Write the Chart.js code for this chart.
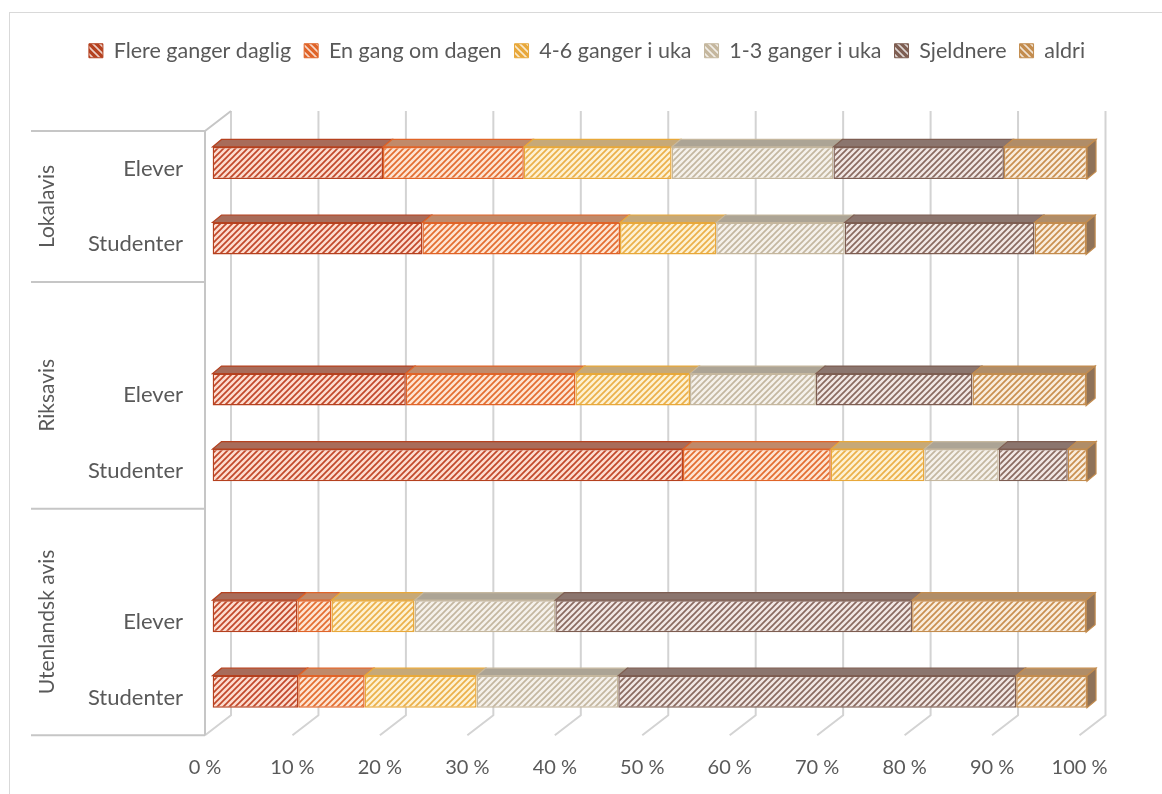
<!DOCTYPE html>
<html><head><meta charset="utf-8">
<script src="https://cdn.jsdelivr.net/npm/chart.js@4.4.1/dist/chart.umd.min.js"></script>
<style>
html,body{margin:0;padding:0;background:#fff;overflow:hidden;}
#wrap{position:absolute;left:0;top:0;width:1162px;height:794px;overflow:hidden;}
#frame{position:absolute;left:9px;top:12px;width:1300px;height:900px;border:1px solid #d9d9d9;}
canvas{position:absolute;left:0;top:0;}
</style></head><body>
<div id="wrap"><div id="frame"></div><canvas id="c" width="1162" height="794"></canvas></div>
<script>
// ---- data ----
const categories = ['Elever','Studenter','','Elever','Studenter','','Elever','Studenter'];
const groupNames = ['Lokalavis','Riksavis','Utenlandsk avis'];
const groupFirstSlot = [0, 2, 5];
const groupLastSlot = [1, 4, 7];
const seriesNames = ['Flere ganger daglig','En gang om dagen','4-6 ganger i uka','1-3 ganger i uka','Sjeldnere','aldri'];
const flereGangerDaglig = [19.5, 24.0, null, 22.1, 53.8, null, 9.7, 9.8];
const enGangOmDagen     = [16.1, 22.6, null, 19.4, 16.9, null, 3.9, 7.6];
const fireTilSeksUka    = [16.9, 11.0, null, 13.1, 10.7, null, 9.5, 12.8];
const enTilTreUka       = [18.5, 14.7, null, 14.4, 8.5, null, 16.1, 16.2];
const sjeldnere         = [19.5, 21.7, null, 17.9, 7.9, null, 40.8, 45.5];
const aldri             = [9.5, 5.9, null, 13.0, 2.2, null, 19.9, 8.1];
const xTickLabels = ['0 %','10 %','20 %','30 %','40 %','50 %','60 %','70 %','80 %','90 %','100 %'];

// ---- styles ----
const seriesValues = [flereGangerDaglig, enGangOmDagen, fireTilSeksUka, enTilTreUka, sjeldnere, aldri];
const borderColors = ['#b5411f','#e06428','#e8a83a','#c5b79e','#7e5e52','#c38c4e'];
const hatchColors  = ['#c2482a','#e36d30','#ebb04a','#c4b7a0','#8a6a60','#c98f50'];
const tintColors   = ['#fcdccf','#fde4d2','#fdf1d3','#f5f1eb','#f1e7e4','#f9ecdc'];
const topColors    = ['#a86c5a','#c08a6a','#c6a978','#aca495','#8b756e','#b08d68'];
const sideColors   = ['#8a5646','#9c6c52','#a08860','#8e877a','#6e5a54','#8f7258'];
const TEXT = '#595959';
const FONT = 'Lato';

function hatch(bg, fg, size, lw, back) {
  const c = document.createElement('canvas');
  c.width = size; c.height = size;
  const g = c.getContext('2d');
  g.fillStyle = bg; g.fillRect(0,0,size,size);
  g.strokeStyle = fg; g.lineWidth = lw;
  g.beginPath();
  if (!back) {
    g.moveTo(-1, size+1); g.lineTo(size+1, -1);
    g.moveTo(-1, 1); g.lineTo(1, -1);
    g.moveTo(size-1, size+1); g.lineTo(size+1, size-1);
  } else {
    g.moveTo(-1, -1); g.lineTo(size+1, size+1);
    g.moveTo(size-1, -1); g.lineTo(size+1, 1);
    g.moveTo(-1, size-1); g.lineTo(1, size+1);
  }
  g.stroke();
  return g.createPattern(c, 'repeat');
}
const frontPatterns = hatchColors.map((h,i)=>hatch(tintColors[i], h, 6, 1.7, false));
const legendPatterns = borderColors.map((b)=>hatch(b, 'rgba(255,255,255,0.75)', 7, 1.6, true));

// 3D geometry offsets relative to bar front face
const FRONT = {dx:-7.5, dy:5.75};
const BACK = {dx:18.5, dy:-14.25};
const DEPTH = {dx:9, dy:-7.5};

const wallPlugin = {
  id: 'wall3d',
  afterLayout(chart) {
    const lg = chart.legend;
    if (lg) { const h = lg.height; lg.top = 27; lg.bottom = 27 + h; }
  },
  beforeDatasetsDraw(chart) {
    const ctx = chart.ctx, xs = chart.scales.x, ys = chart.scales.y, a = chart.chartArea;
    ctx.save();
    ctx.strokeStyle = '#d3d3d3'; ctx.lineWidth = 2; ctx.lineJoin = 'round';
    for (let v = 0; v <= 100; v += 10) {
      const px = xs.getPixelForValue(v);
      ctx.beginPath();
      ctx.moveTo(px + BACK.dx, a.top + BACK.dy);
      ctx.lineTo(px + BACK.dx, a.bottom + BACK.dy);
      ctx.lineTo(px + FRONT.dx, a.bottom + FRONT.dy);
      ctx.stroke();
    }
    const x0 = xs.getPixelForValue(0);
    ctx.strokeStyle = '#c6c6c6';
    ctx.beginPath();
    ctx.moveTo(x0 + BACK.dx, a.top + BACK.dy);
    ctx.lineTo(x0 + FRONT.dx, a.top + FRONT.dy);
    ctx.lineTo(x0 + FRONT.dx, a.bottom + FRONT.dy);
    ctx.stroke();
    // group separators and group labels
    const slot = ys.getPixelForValue(1) - ys.getPixelForValue(0);
    const edgeTop = (i) => ys.getPixelForValue(i) - slot/2 + FRONT.dy;
    const edgeBot = (i) => ys.getPixelForValue(i) + slot/2 + FRONT.dy;
    ctx.strokeStyle = '#c6c6c6'; ctx.lineWidth = 2;
    const lines = [edgeTop(groupFirstSlot[0])].concat(groupLastSlot.map(edgeBot));
    lines.forEach(y => {
      ctx.beginPath(); ctx.moveTo(31, y); ctx.lineTo(x0 + FRONT.dx, y); ctx.stroke();
    });
    ctx.fillStyle = TEXT; ctx.font = '21px ' + FONT;
    ctx.textAlign = 'center'; ctx.textBaseline = 'middle';
    groupNames.forEach((g, k) => {
      const yc = (edgeTop(groupFirstSlot[k]) + edgeBot(groupLastSlot[k])) / 2;
      ctx.save(); ctx.translate(47, yc); ctx.rotate(-Math.PI/2);
      ctx.fillText(g, 0, 0); ctx.restore();
    });
    ctx.restore();
  },
  afterDatasetsDraw(chart) {
    const ctx = chart.ctx;
    const n = chart.data.datasets.length;
    ctx.save();
    chart.data.datasets.forEach((ds, di) => {
      const meta = chart.getDatasetMeta(di);
      meta.data.forEach((el, i) => {
        if (ds.data[i] == null) return;
        const p = el.getProps(['x','y','base','height'], true);
        if (!isFinite(p.x) || !isFinite(p.base)) return;
        const xa = Math.min(p.x, p.base), xb = Math.max(p.x, p.base);
        const yt = p.y - p.height/2, yb = p.y + p.height/2;
        ctx.lineWidth = 1.2; ctx.strokeStyle = borderColors[di];
        ctx.beginPath();
        ctx.moveTo(xa, yt); ctx.lineTo(xb, yt);
        ctx.lineTo(xb + DEPTH.dx, yt + DEPTH.dy); ctx.lineTo(xa + DEPTH.dx, yt + DEPTH.dy);
        ctx.closePath();
        ctx.fillStyle = topColors[di]; ctx.fill(); ctx.stroke();
        if (di === n - 1) {
          ctx.beginPath();
          ctx.moveTo(xb, yt); ctx.lineTo(xb + DEPTH.dx, yt + DEPTH.dy);
          ctx.lineTo(xb + DEPTH.dx, yb + DEPTH.dy); ctx.lineTo(xb, yb);
          ctx.closePath();
          ctx.fillStyle = sideColors[di]; ctx.fill(); ctx.stroke();
        }
      });
    });
    ctx.restore();
  }
};

const datasets = seriesValues.map((vals, i) => ({
  label: seriesNames[i],
  data: vals,
  backgroundColor: frontPatterns[i],
  borderColor: borderColors[i],
  borderWidth: 1.5,
  borderSkipped: false,
  barPercentage: 0.424,
  categoryPercentage: 1.0
}));

Chart.defaults.font.family = FONT;
Chart.defaults.color = TEXT;

const chart = new Chart(document.getElementById('c'), {
  type: 'bar',
  data: { labels: categories, datasets },
  plugins: [wallPlugin],
  options: {
    indexAxis: 'y',
    responsive: false,
    animation: false,
    layout: { padding: { left: 40, right: 28, top: 75, bottom: 4.5 } },
    plugins: {
      legend: {
        position: 'top',
        labels: {
          boxWidth: 14, boxHeight: 14, padding: 13,
          font: { size: 21.5, family: FONT }, color: TEXT,
          generateLabels: (ch) => seriesNames.map((name, i) => ({
            text: name, fillStyle: legendPatterns[i], strokeStyle: borderColors[i],
            lineWidth: 1, fontColor: TEXT, hidden: false, datasetIndex: i
          }))
        }
      },
      tooltip: { enabled: false }
    },
    scales: {
      x: {
        stacked: true, min: 0, max: 100,
        grid: { display: false, drawTicks: false },
        border: { display: false },
        afterFit: (s) => { s.height = 60; },
        ticks: {
          stepSize: 10, padding: 26, labelOffset: -7.5,
          font: { size: 20, family: FONT }, color: TEXT,
          callback: (v, idx) => xTickLabels[Math.round(v / 10)]
        }
      },
      y: {
        stacked: true,
        grid: { display: false, drawTicks: false },
        border: { display: false },
        afterFit: (s) => { s.width = 172.5; },
        ticks: {
          autoSkip: false, padding: 29.5, labelOffset: 5.75,
          font: { size: 22, family: FONT }, color: TEXT
        }
      },
      yRightSpace: {
        type: 'linear', axis: 'y', position: 'right', display: true,
        grid: { display: false, drawTicks: false },
        border: { display: false },
        ticks: { display: false },
        afterFit: (s) => { s.width = 47; }
      }
    }
  }
});
const dt = 125.2 - chart.chartArea.top;
chart.options.layout.padding.top += dt;
chart.update('none');
</script>
</body></html>
